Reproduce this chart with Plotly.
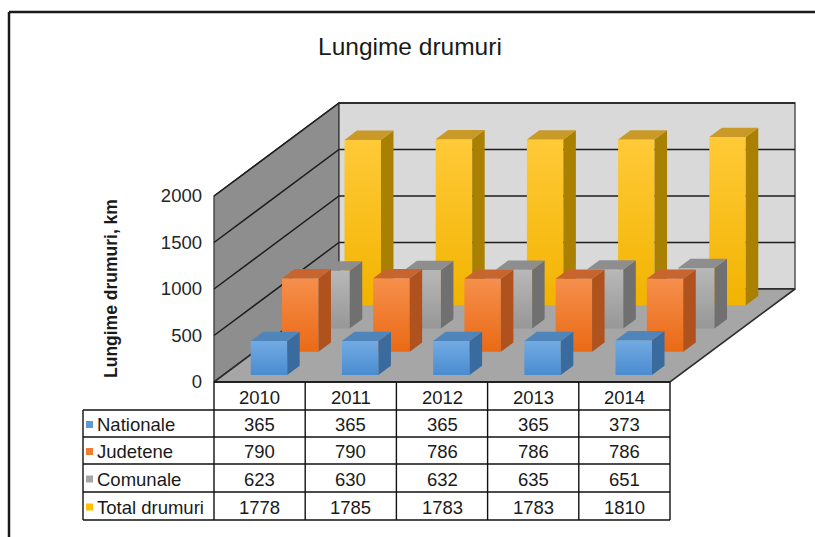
import plotly.graph_objects as go

# ---------------- data ----------------
years = ["2010", "2011", "2012", "2013", "2014"]
series_names = ["Nationale", "Judetene", "Comunale", "Total drumuri"]
nationale = [365, 365, 365, 365, 373]
judetene = [790, 790, 786, 786, 786]
comunale = [623, 630, 632, 635, 651]
total_drumuri = [1778, 1785, 1783, 1783, 1810]
y_ticks = [0, 500, 1000, 1500, 2000]
series_values = [nationale, judetene, comunale, total_drumuri]

# ---------------- styles ----------------
styles = [
    dict(top_front="#72abe3", bot_front="#4a8bd0", side="#3a6b9e", top="#5085bb", key="#5b9bd5"),
    dict(top_front="#f68f4c", bot_front="#ea6a15", side="#b0521d", top="#c8652e", key="#ed7d31"),
    dict(top_front="#b8b8b8", bot_front="#979797", side="#707070", top="#8e8e8e", key="#a5a5a5"),
    dict(top_front="#ffca38", bot_front="#f2b300", side="#a98000", top="#c99a28", key="#ffc000"),
]

W, H = 815, 537
X0, CW = 214.0, 91.2      # px of first category edge, px per category
Y0, VS = 382.0, 0.093     # px of value 0, px per value unit
DX, DY = 31.25, 23.25     # px per depth unit (oblique projection)
KX, KV = DX / CW, DY / VS
NCAT, NDEPTH, VMAX = len(years), len(series_names), max(y_ticks)


def proj(c, v, d):
    return c + d * KX, v + d * KV


def px(x):
    return x / W


def py(y):
    return 1 - y / H


fig = go.Figure()


def poly(points, fill=None, grad=None, line_color=None, line_width=0.0):
    xs = [p[0] for p in points] + [points[0][0]]
    ys = [p[1] for p in points] + [points[0][1]]
    kw = dict(x=xs, y=ys, mode="lines", fill="toself", hoverinfo="skip", showlegend=False,
              line=dict(color=line_color or fill or "rgba(0,0,0,0)", width=line_width))
    if grad is not None:
        kw["fillgradient"] = grad
        kw["line"] = dict(color="rgba(0,0,0,0)", width=0)
    else:
        kw["fillcolor"] = fill
    fig.add_trace(go.Scatter(**kw))


# walls and floor
left_wall = [proj(0, 0, 0), proj(0, VMAX, 0), proj(0, VMAX, NDEPTH), proj(0, 0, NDEPTH)]
back_wall = [proj(0, 0, NDEPTH), proj(NCAT, 0, NDEPTH), proj(NCAT, VMAX, NDEPTH), proj(0, VMAX, NDEPTH)]
floor = [proj(0, 0, 0), proj(NCAT, 0, 0), proj(NCAT, 0, NDEPTH), proj(0, 0, NDEPTH)]
poly(left_wall, fill="#8e8e8e", line_color="#3a3a3a", line_width=1.3)
poly(back_wall, fill="#d9d9d9", line_color="#3a3a3a", line_width=1.3)

# gridlines
for v in y_ticks:
    pts = [proj(0, v, 0), proj(0, v, NDEPTH), proj(NCAT, v, NDEPTH)]
    fig.add_trace(go.Scatter(x=[p[0] for p in pts], y=[p[1] for p in pts], mode="lines",
                             line=dict(color="#1e1e1e", width=1.5), hoverinfo="skip", showlegend=False))

poly(floor, fill="#a6a6a6", line_color="#2e2e2e", line_width=1.6)

# bars: back rows first
for r in reversed(range(NDEPTH)):
    st = styles[r]
    df, db = r + 0.3, r + 0.7
    for i, v in enumerate(series_values[r]):
        xl, xr = i + 0.3, i + 0.7
        front = [proj(xl, 0, df), proj(xr, 0, df), proj(xr, v, df), proj(xl, v, df)]
        side = [proj(xr, 0, df), proj(xr, 0, db), proj(xr, v, db), proj(xr, v, df)]
        top = [proj(xl, v, df), proj(xr, v, df), proj(xr, v, db), proj(xl, v, db)]
        y_lo, y_hi = front[0][1], front[2][1]
        poly(front, grad=dict(type="vertical", start=y_lo, stop=y_hi,
                              colorscale=[[0, st["bot_front"]], [1, st["top_front"]]]))
        poly(side, fill=st["side"])
        poly(top, fill=st["top"])

# ---------------- table ----------------
shapes = []
line_c = dict(color="#111111", width=1.4)
row_lines = [382, 410, 437, 464, 492, 520]
col_px = [X0 + CW * i for i in range(NCAT + 1)]
label_left = 83
shapes.append(dict(type="line", xref="paper", yref="paper", x0=px(col_px[0]), x1=px(col_px[-1]),
                   y0=py(row_lines[0]), y1=py(row_lines[0]), line=line_c))
for yl in row_lines[1:]:
    shapes.append(dict(type="line", xref="paper", yref="paper", x0=px(label_left), x1=px(col_px[-1]),
                       y0=py(yl), y1=py(yl), line=line_c))
for xc in col_px:
    shapes.append(dict(type="line", xref="paper", yref="paper", x0=px(xc), x1=px(xc),
                       y0=py(row_lines[0]), y1=py(row_lines[-1]), line=line_c))
shapes.append(dict(type="line", xref="paper", yref="paper", x0=px(label_left), x1=px(label_left),
                   y0=py(row_lines[1]), y1=py(row_lines[-1]), line=line_c))

# outer border (top and left)
border = dict(color="#1a1a1a", width=2.5)
shapes.append(dict(type="line", xref="paper", yref="paper", x0=px(9), x1=px(W + 5), y0=py(12), y1=py(12), line=border))
shapes.append(dict(type="line", xref="paper", yref="paper", x0=px(9), x1=px(9), y0=py(12), y1=py(H + 5), line=border))

annotations = []
tfont = dict(family="Liberation Sans, Arial, sans-serif", size=18.5, color="#1a1a1a")
for i, yr in enumerate(years):
    annotations.append(dict(xref="paper", yref="paper", x=px((col_px[i] + col_px[i + 1]) / 2),
                            y=py((row_lines[0] + row_lines[1]) / 2 + 1), text=yr, showarrow=False,
                            xanchor="center", yanchor="middle", font=tfont))
for r, name in enumerate(series_names):
    yc = (row_lines[r + 1] + row_lines[r + 2]) / 2 + 1
    shapes.append(dict(type="rect", xref="paper", yref="paper", x0=px(86), x1=px(93),
                       y0=py(yc - 3.5), y1=py(yc + 3.5), fillcolor=styles[r]["key"], line=dict(width=0)))
    annotations.append(dict(xref="paper", yref="paper", x=px(95), y=py(yc), text=name, showarrow=False,
                            xanchor="left", yanchor="middle", font=tfont))
    for i, v in enumerate(series_values[r]):
        annotations.append(dict(xref="paper", yref="paper", x=px((col_px[i] + col_px[i + 1]) / 2),
                                y=py(yc), text=str(v), showarrow=False,
                                xanchor="center", yanchor="middle", font=tfont))

annotations.append(dict(xref="paper", yref="paper", x=px(410), y=py(46), text="Lungime drumuri",
                        showarrow=False, xanchor="center", yanchor="middle",
                        font=dict(family="Liberation Sans, Arial, sans-serif", size=24.5, color="#1a1a1a")))
annotations.append(dict(xref="paper", yref="paper", x=px(111), y=py(288), text="<b>Lungime drumuri, km</b>",
                        showarrow=False, xanchor="center", yanchor="middle", textangle=-90,
                        font=dict(family="Liberation Sans, Arial, sans-serif", size=17.5, color="#1a1a1a")))

fig.update_layout(
    width=W, height=H, autosize=False,
    margin=dict(l=0, r=0, t=0, b=0, pad=0),
    paper_bgcolor="white", plot_bgcolor="white",
    showlegend=False,
    xaxis=dict(range=[(0 - X0) / CW, (W - X0) / CW], visible=False, fixedrange=True),
    yaxis=dict(range=[(Y0 - H) / VS, Y0 / VS], anchor="free", position=X0 / W,
               tickvals=y_ticks, ticktext=[str(t) for t in y_ticks], ticks="",
               showgrid=False, zeroline=False, showline=False, ticklabelstandoff=12,
               tickfont=dict(family="Liberation Sans, Arial, sans-serif", size=18.5, color="#262626"),
               fixedrange=True),
    shapes=shapes, annotations=annotations,
)

fig.write_html("out.html", config={"displayModeBar": False},
               post_script="document.body.style.margin='0';document.body.style.overflow='hidden';")
